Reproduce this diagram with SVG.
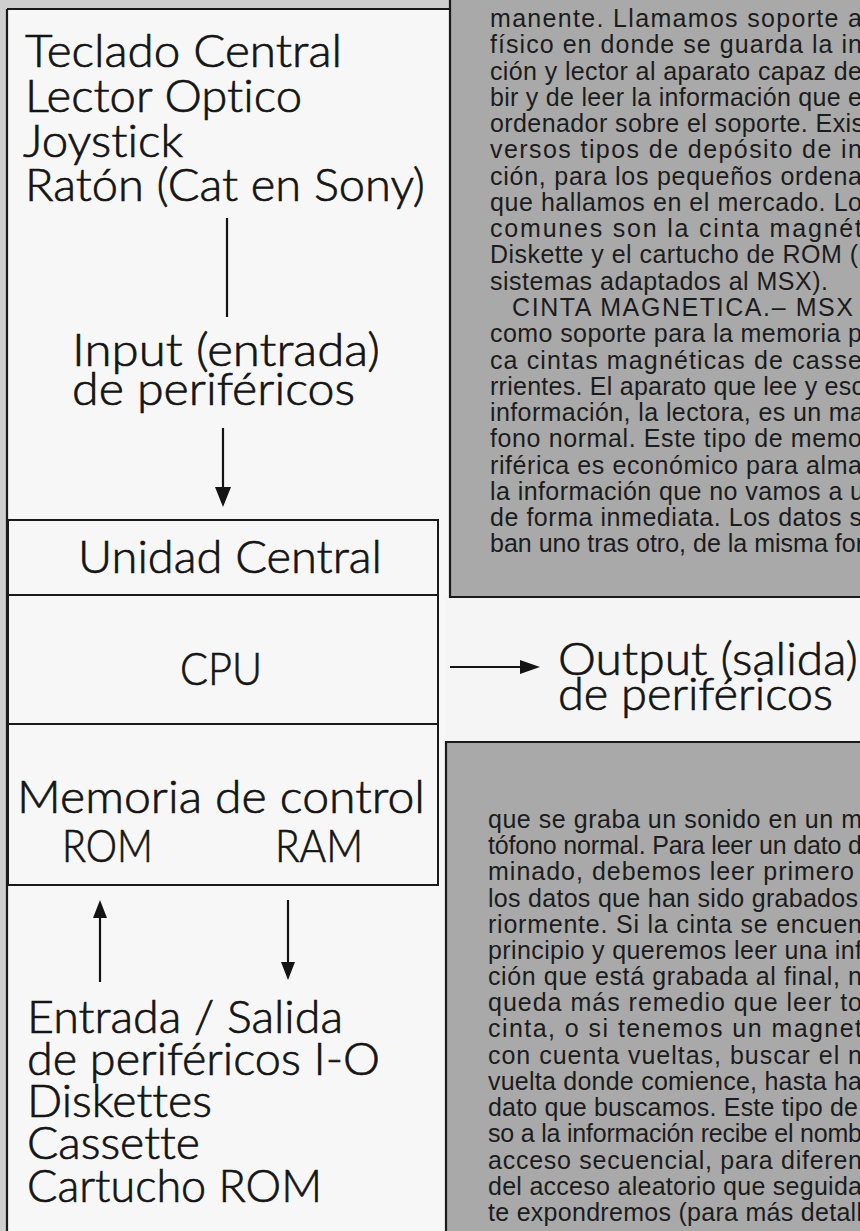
<svg xmlns="http://www.w3.org/2000/svg" width="860" height="1231" viewBox="0 0 860 1231">
  <defs>
    <style>
      .lbl { font-family: Lato, "Open Sans", "DejaVu Sans", sans-serif; font-size: 46px; font-weight: 300; fill: #141414; stroke: #141414; stroke-width: 0.7; font-variant-ligatures: none; font-feature-settings: "liga" 0, "clig" 0; }
      .col { font-family: "Liberation Sans", Arial, sans-serif; font-size: 25px; fill: #1c1c1c; }
      .edge { stroke: #1a1a1a; stroke-width: 2.2; fill: none; }
      .box { fill: none; stroke: #1a1a1a; stroke-width: 2; }
      .conn { stroke: #141414; stroke-width: 2.2; fill: none; }
      .head { fill: #141414; stroke: none; }
      .panel { fill: #a9a9a9; }
    </style>
  </defs>

  <!-- page background / margins -->
  <rect x="0" y="0" width="860" height="1231" fill="#cfcfcf"/>
  <!-- white diagram area -->
  <rect x="7" y="9" width="445" height="1222" fill="#f7f7f7"/>
  <rect x="445" y="597" width="415" height="145" fill="#f5f5f5"/>
  <line class="edge" x1="7" y1="9" x2="451" y2="9"/>
  <line class="edge" x1="7" y1="9" x2="7" y2="1231"/>

  <!-- top text panel -->
  <g id="text-panel-top">
    <rect class="panel" x="450" y="0" width="410" height="597"/>
    <polyline class="edge" points="450,0 450,597 860,597"/>
    <text class="col" x="490" y="27" textLength="372" lengthAdjust="spacing">manente. Llamamos soporte a</text>
    <text class="col" x="490" y="53" textLength="372" lengthAdjust="spacing">físico en donde se guarda la in</text>
    <text class="col" x="490" y="80" textLength="372" lengthAdjust="spacing">ción y lector al aparato capaz de</text>
    <text class="col" x="490" y="106" textLength="372" lengthAdjust="spacing">bir y de leer la información que e</text>
    <text class="col" x="490" y="132" textLength="374" lengthAdjust="spacing">ordenador sobre el soporte. Exis</text>
    <text class="col" x="490" y="158" textLength="372" lengthAdjust="spacing">versos tipos de depósito de in</text>
    <text class="col" x="490" y="185" textLength="372" lengthAdjust="spacing">ción, para los pequeños ordena</text>
    <text class="col" x="490" y="211" textLength="372" lengthAdjust="spacing">que hallamos en el mercado. Lo</text>
    <text class="col" x="490" y="237" textLength="372" lengthAdjust="spacing">comunes son la cinta magnét</text>
    <text class="col" x="490" y="263" textLength="374" lengthAdjust="spacing">Diskette y el cartucho de ROM (l</text>
    <text class="col" x="490" y="290" textLength="338" lengthAdjust="spacing">sistemas adaptados al MSX).</text>
    <text class="col" x="512" y="316" textLength="341" lengthAdjust="spacing">CINTA MAGNETICA.– MSX</text>
    <text class="col" x="490" y="342" textLength="372" lengthAdjust="spacing">como soporte para la memoria p</text>
    <text class="col" x="490" y="369" textLength="372" lengthAdjust="spacing">ca cintas magnéticas de casse</text>
    <text class="col" x="490" y="395" textLength="374" lengthAdjust="spacing">rrientes. El aparato que lee y esc</text>
    <text class="col" x="490" y="421" textLength="374" lengthAdjust="spacing">información, la lectora, es un ma</text>
    <text class="col" x="490" y="447" textLength="372" lengthAdjust="spacing">fono normal. Este tipo de memo</text>
    <text class="col" x="490" y="474" textLength="372" lengthAdjust="spacing">riférica es económico para alma</text>
    <text class="col" x="490" y="500" textLength="374" lengthAdjust="spacing">la información que no vamos a u</text>
    <text class="col" x="490" y="526" textLength="372" lengthAdjust="spacing">de forma inmediata. Los datos s</text>
    <text class="col" x="490" y="552" textLength="374" lengthAdjust="spacing">ban uno tras otro, de la misma for</text>
  </g>

  <!-- bottom text panel -->
  <g id="text-panel-bottom">
    <rect class="panel" x="446" y="742" width="414" height="489"/>
    <polyline class="edge" points="446,1231 446,742 860,742"/>
    <text class="col" x="488" y="828" textLength="374" lengthAdjust="spacing">que se graba un sonido en un m</text>
    <text class="col" x="488" y="854" textLength="374" lengthAdjust="spacing">tófono normal. Para leer un dato d</text>
    <text class="col" x="488" y="880" textLength="366" lengthAdjust="spacing">minado, debemos leer primero</text>
    <text class="col" x="488" y="907" textLength="370" lengthAdjust="spacing">los datos que han sido grabados</text>
    <text class="col" x="488" y="933" textLength="374" lengthAdjust="spacing">riormente. Si la cinta se encuen</text>
    <text class="col" x="488" y="959" textLength="374" lengthAdjust="spacing">principio y queremos leer una inf</text>
    <text class="col" x="488" y="985" textLength="374" lengthAdjust="spacing">ción que está grabada al final, n</text>
    <text class="col" x="488" y="1011" textLength="374" lengthAdjust="spacing">queda más remedio que leer to</text>
    <text class="col" x="488" y="1037" textLength="374" lengthAdjust="spacing">cinta, o si tenemos un magnet</text>
    <text class="col" x="488" y="1064" textLength="374" lengthAdjust="spacing">con cuenta vueltas, buscar el n</text>
    <text class="col" x="488" y="1090" textLength="374" lengthAdjust="spacing">vuelta donde comience, hasta ha</text>
    <text class="col" x="488" y="1116" textLength="370" lengthAdjust="spacing">dato que buscamos. Este tipo de</text>
    <text class="col" x="488" y="1142" textLength="374" lengthAdjust="spacing">so a la información recibe el nomb</text>
    <text class="col" x="488" y="1169" textLength="374" lengthAdjust="spacing">acceso secuencial, para diferen</text>
    <text class="col" x="488" y="1195" textLength="374" lengthAdjust="spacing">del acceso aleatorio que seguida</text>
    <text class="col" x="488" y="1221" textLength="374" lengthAdjust="spacing">te expondremos (para más detall</text>
  </g>

  <!-- connectors -->
  <g id="connectors">
    <line class="conn" x1="227" y1="218" x2="227" y2="317"/>
    <line class="conn" x1="223" y1="428" x2="223" y2="490"/>
    <polygon class="head" points="215,487 231,487 223,507"/>
    <line class="conn" x1="450" y1="667" x2="524" y2="667"/>
    <polygon class="head" points="520,660 540,667 520,674"/>
    <line class="conn" x1="100" y1="982" x2="100" y2="915"/>
    <polygon class="head" points="93,918 107,918 100,900"/>
    <line class="conn" x1="288" y1="900" x2="288" y2="965"/>
    <polygon class="head" points="281,962 295,962 288,980"/>
  </g>

  <g id="input-devices">
    <text class="lbl" x="25" y="67" textLength="317" lengthAdjust="spacingAndGlyphs">Teclado Central</text>
    <text class="lbl" x="25" y="112" textLength="277" lengthAdjust="spacingAndGlyphs">Lector Optico</text>
    <text class="lbl" x="23" y="157" textLength="160" lengthAdjust="spacingAndGlyphs">Joystick</text>
    <text class="lbl" x="25" y="201" textLength="400" lengthAdjust="spacingAndGlyphs">Ratón (Cat en Sony)</text>
  </g>

  <g id="input-label">
    <text class="lbl" x="72" y="366" textLength="308" lengthAdjust="spacingAndGlyphs">Input (entrada)</text>
    <text class="lbl" x="72" y="405" textLength="283" lengthAdjust="spacingAndGlyphs">de periféricos</text>
  </g>

  <g id="central-unit">
    <rect class="box" x="8" y="520" width="430" height="365"/>
    <line class="box" x1="8" y1="595" x2="438" y2="595"/>
    <line class="box" x1="8" y1="724" x2="438" y2="724"/>
    <text class="lbl" x="78" y="573" textLength="304" lengthAdjust="spacingAndGlyphs">Unidad Central</text>
    <text class="lbl" x="180" y="685" textLength="82" lengthAdjust="spacingAndGlyphs">CPU</text>
    <text class="lbl" x="17" y="813" textLength="408" lengthAdjust="spacingAndGlyphs">Memoria de control</text>
    <text class="lbl" x="62" y="862" textLength="91" lengthAdjust="spacingAndGlyphs">ROM</text>
    <text class="lbl" x="275" y="862" textLength="88" lengthAdjust="spacingAndGlyphs">RAM</text>
  </g>

  <g id="output-label">
    <text class="lbl" x="558" y="675" textLength="300" lengthAdjust="spacingAndGlyphs">Output (salida)</text>
    <text class="lbl" x="558" y="710" textLength="275" lengthAdjust="spacingAndGlyphs">de periféricos</text>
  </g>

  <g id="io-devices">
    <text class="lbl" x="27" y="1033" textLength="316" lengthAdjust="spacingAndGlyphs">Entrada / Salida</text>
    <text class="lbl" x="27" y="1075" textLength="353" lengthAdjust="spacingAndGlyphs">de periféricos I-O</text>
    <text class="lbl" x="27" y="1117" textLength="185" lengthAdjust="spacingAndGlyphs">Diskettes</text>
    <text class="lbl" x="27" y="1159" textLength="173" lengthAdjust="spacingAndGlyphs">Cassette</text>
    <text class="lbl" x="27" y="1202" textLength="295" lengthAdjust="spacingAndGlyphs">Cartucho ROM</text>
  </g>
</svg>
